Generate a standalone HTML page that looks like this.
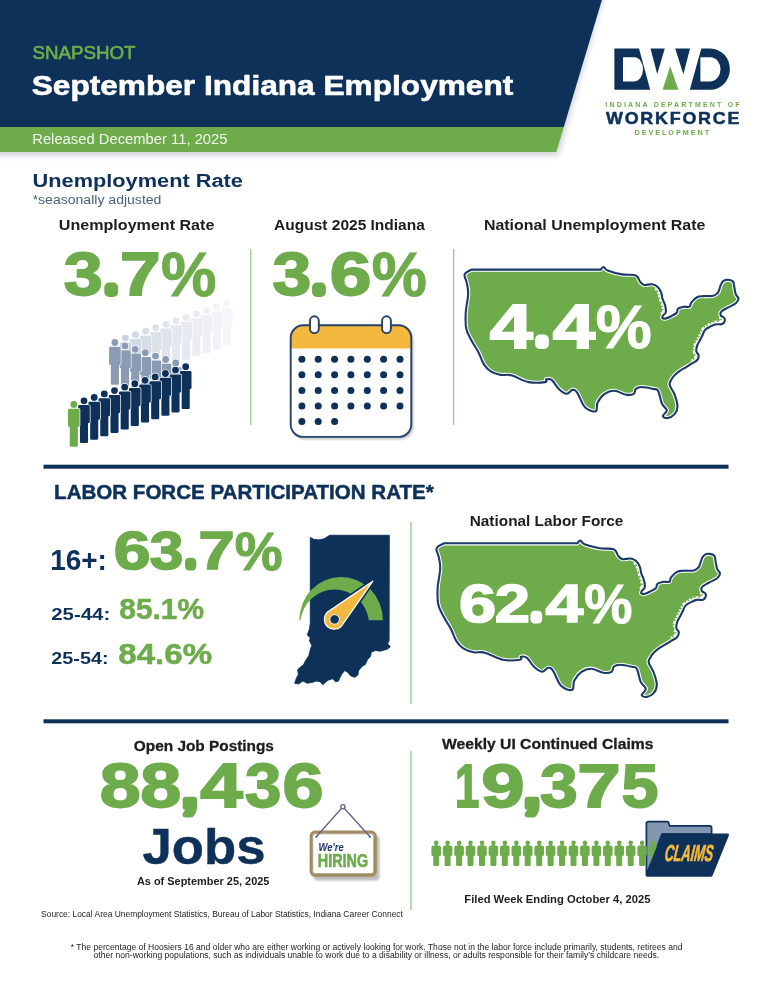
<!DOCTYPE html>
<html lang="en"><head><meta charset="utf-8"><title>September Indiana Employment Snapshot</title>
<style>
html,body{margin:0;padding:0;background:#fff;}
body{width:773px;height:1000px;overflow:hidden;font-family:"Liberation Sans", sans-serif;}
svg{display:block;}
text{font-family:"Liberation Sans", sans-serif;white-space:pre;}
</style></head><body>
<svg width="773" height="1000" viewBox="0 0 773 1000">
<defs>
<filter id="sh" x="-5%" y="-20%" width="110%" height="150%"><feGaussianBlur stdDeviation="3"/></filter>
<filter id="sh2" x="-20%" y="-20%" width="140%" height="140%"><feGaussianBlur stdDeviation="1.2"/></filter>
<symbol id="p" overflow="visible"><circle cx="0" cy="3.4" r="3.4"/><path d="M-4.6,7.7 h9.2 a1.2,1.2 0 0 1 1.2,1.2 v15.6 a1.2,1.2 0 0 1 -1.2,1.2 h-0.55 v18.9 a1.1,1.1 0 0 1 -1.1,1.1 h-5.9 a1.1,1.1 0 0 1 -1.1,-1.1 v-18.9 h-0.55 a1.2,1.2 0 0 1 -1.2,-1.2 v-15.6 a1.2,1.2 0 0 1 1.2,-1.2 z"/></symbol><symbol id="s" overflow="visible"><circle cx="0" cy="2.3" r="2.3"/><rect x="-1.3" y="3.5" width="2.6" height="2.5"/><path d="M-2.6,4.9 h5.2 a2.2,2.2 0 0 1 2.2,2.2 v7 a1.4,1.4 0 0 1 -1.4,1.4 h-0.4 v8.8 a1.3,1.3 0 0 1 -1.3,1.3 h-3.4 a1.3,1.3 0 0 1 -1.3,-1.3 v-8.8 h-0.4 a1.4,1.4 0 0 1 -1.4,-1.4 v-7 a2.2,2.2 0 0 1 2.2,-2.2 z"/></symbol>
</defs>
<rect width="773" height="1000" fill="#fff"/>

<g id="header">
<path d="M-10,-10 H602.6 L556.6,152.4 H-10 Z" fill="#1a1a3a" opacity="0.22" filter="url(#sh)" transform="translate(1.5,2.5)"/>
<path d="M0,0 H601.9 L563.8,126.9 H0 Z" fill="#0e3159"/>
<path d="M0,126.9 H563.8 L556.3,152.1 H0 Z" fill="#6dab4b"/>
<text x="32.41" y="58.76" font-size="18.73" fill="#6dab4b" font-weight="normal" textLength="103.14" lengthAdjust="spacingAndGlyphs" stroke="#6dab4b" stroke-width="0.7" stroke-linejoin="round">SNAPSHOT</text>
<text x="31.71" y="94.93" font-size="27.46" fill="#fff" font-weight="bold" textLength="481.6" lengthAdjust="spacingAndGlyphs" stroke="#fff" stroke-width="0.6" stroke-linejoin="round">September Indiana Employment</text>
<text x="32.21" y="144.2" font-size="15.22" fill="#fff" font-weight="normal" textLength="195.34" lengthAdjust="spacingAndGlyphs" opacity="0.9">Released December 11, 2025</text>
</g>
<g id="logo">
<path d="M614.4,48.6 H639 L650.2,89.7 H614.4 Z" fill="#0e3159"/>
<path d="M623,57.3 H634.4 a8.6,12.05 0 0 1 0,24.1 H623 Z" fill="#fff"/>
<path d="M650.5,48.6 H664.8 L657.2,73.9 Z" fill="#0e3159"/>
<path d="M675.2,48.6 H690 L683.4,74.2 Z" fill="#0e3159"/>
<path d="M670.2,66.3 L678.4,89.7 H662.6 Z" fill="#6dab4b"/>
<path d="M701.3,48.6 H710.4 a19.5,20.55 0 0 1 0,41.1 H689.8 Z" fill="#0e3159"/>
<path d="M700.4,57.3 H710.4 a10.1,12.05 0 0 1 0,24.1 H700.4 Z" fill="#fff"/>
<text x="605.37" y="107.2" font-size="6.96" fill="#6dab4b" font-weight="bold" textLength="134.15" lengthAdjust="spacing">INDIANA DEPARTMENT OF</text>
<text x="606.05" y="123.65" font-size="16.23" fill="#0e3159" font-weight="bold" textLength="135.06" lengthAdjust="spacingAndGlyphs" stroke="#0e3159" stroke-width="0.5" stroke-linejoin="round" style="letter-spacing:1.6px">WORKFORCE</text>
<text x="634.45" y="134.8" font-size="7.25" fill="#6dab4b" font-weight="bold" textLength="74.64" lengthAdjust="spacing">DEVELOPMENT</text>
</g>
<g id="unemployment">
<text x="32.54" y="187.11" font-size="19.14" fill="#0e3159" font-weight="bold" textLength="210.34" lengthAdjust="spacingAndGlyphs">Unemployment Rate</text>
<text x="32.65" y="203.7" font-size="13.52" fill="#4d5d78" font-weight="normal" textLength="128.77" lengthAdjust="spacingAndGlyphs">*seasonally adjusted</text>
<text x="58.79" y="229.85" font-size="15.0" fill="#1d1d1f" font-weight="bold" textLength="155.61" lengthAdjust="spacingAndGlyphs">Unemployment Rate</text>
<text x="274.11" y="230.0" font-size="15.22" fill="#1d1d1f" font-weight="bold" textLength="150.68" lengthAdjust="spacingAndGlyphs">August 2025 Indiana</text>
<text x="483.9" y="230.1" font-size="15.22" fill="#1d1d1f" font-weight="bold" textLength="221.45" lengthAdjust="spacingAndGlyphs">National Unemployment Rate</text>
<text y="295.29" font-size="61.41" fill="#6dab4b" font-weight="bold" stroke="#6dab4b" stroke-width="1.8" stroke-linejoin="miter"><tspan x="63.65" textLength="38.88" lengthAdjust="spacingAndGlyphs" y="295.29">3</tspan><tspan x="107.30" textLength="7.94" lengthAdjust="spacingAndGlyphs" font-size="29.33" y="291.80" stroke-width="10" stroke-linejoin="round">.</tspan><tspan x="120.02" textLength="40.55" lengthAdjust="spacingAndGlyphs" y="295.29">7</tspan><tspan x="160.94" textLength="55.47" lengthAdjust="spacingAndGlyphs" font-size="62.98" y="295.67" stroke-width="1.0" stroke-linejoin="miter">%</tspan></text>
<text y="295.29" font-size="61.41" fill="#6dab4b" font-weight="bold" stroke="#6dab4b" stroke-width="1.8" stroke-linejoin="miter"><tspan x="272.46" textLength="38.76" lengthAdjust="spacingAndGlyphs" y="295.29">3</tspan><tspan x="315.10" textLength="7.94" lengthAdjust="spacingAndGlyphs" font-size="29.33" y="291.80" stroke-width="10" stroke-linejoin="round">.</tspan><tspan x="329.78" textLength="41.63" lengthAdjust="spacingAndGlyphs" y="295.29">6</tspan><tspan x="371.65" textLength="55.05" lengthAdjust="spacingAndGlyphs" font-size="62.98" y="295.67" stroke-width="1.0" stroke-linejoin="miter">%</tspan></text>
<rect x="250.0" y="248.8" width="1.4" height="176" fill="#a6c694"/>
<rect x="452.9" y="248.8" width="1.4" height="176" fill="#a6c694"/>
<g id="people"><use href="#p" x="226.8" y="300.3" fill="#f4f6f9" stroke="#fff" stroke-width="1.3" paint-order="stroke"/><use href="#p" x="216.7" y="303.7" fill="#f1f3f7" stroke="#fff" stroke-width="1.3" paint-order="stroke"/><use href="#p" x="206.5" y="307.2" fill="#edf0f5" stroke="#fff" stroke-width="1.3" paint-order="stroke"/><use href="#p" x="196.4" y="310.6" fill="#eaedf3" stroke="#fff" stroke-width="1.3" paint-order="stroke"/><use href="#p" x="186.2" y="314.1" fill="#e6eaf0" stroke="#fff" stroke-width="1.3" paint-order="stroke"/><use href="#p" x="176.1" y="317.5" fill="#e3e7ee" stroke="#fff" stroke-width="1.3" paint-order="stroke"/><use href="#p" x="166.0" y="320.9" fill="#dfe4eb" stroke="#fff" stroke-width="1.3" paint-order="stroke"/><use href="#p" x="155.8" y="324.4" fill="#dbe0e9" stroke="#fff" stroke-width="1.3" paint-order="stroke"/><use href="#p" x="145.7" y="327.8" fill="#d6dde6" stroke="#fff" stroke-width="1.3" paint-order="stroke"/><use href="#p" x="135.5" y="331.3" fill="#d1d9e3" stroke="#fff" stroke-width="1.3" paint-order="stroke"/><use href="#p" x="125.4" y="334.7" fill="#cbd3df" stroke="#fff" stroke-width="1.3" paint-order="stroke"/><use href="#p" x="175.7" y="359.5" fill="#8a9bb3" stroke="#fff" stroke-width="1.3" paint-order="stroke"/><use href="#p" x="165.6" y="356.1" fill="#8a9bb3" stroke="#fff" stroke-width="1.3" paint-order="stroke"/><use href="#p" x="155.5" y="352.7" fill="#8a9bb3" stroke="#fff" stroke-width="1.3" paint-order="stroke"/><use href="#p" x="145.3" y="349.3" fill="#8a9bb3" stroke="#fff" stroke-width="1.3" paint-order="stroke"/><use href="#p" x="135.2" y="345.9" fill="#8a9bb3" stroke="#fff" stroke-width="1.3" paint-order="stroke"/><use href="#p" x="125.0" y="342.5" fill="#8a9bb3" stroke="#fff" stroke-width="1.3" paint-order="stroke"/><use href="#p" x="114.9" y="339.1" fill="#8a9bb3" stroke="#fff" stroke-width="1.3" paint-order="stroke"/><use href="#p" x="185.7" y="363.3" fill="#0e3159" stroke="#fff" stroke-width="1.4" paint-order="stroke"/><use href="#p" x="175.5" y="366.7" fill="#0e3159" stroke="#fff" stroke-width="1.4" paint-order="stroke"/><use href="#p" x="165.4" y="370.1" fill="#0e3159" stroke="#fff" stroke-width="1.4" paint-order="stroke"/><use href="#p" x="155.2" y="373.5" fill="#0e3159" stroke="#fff" stroke-width="1.4" paint-order="stroke"/><use href="#p" x="145.0" y="376.9" fill="#0e3159" stroke="#fff" stroke-width="1.4" paint-order="stroke"/><use href="#p" x="134.8" y="380.3" fill="#0e3159" stroke="#fff" stroke-width="1.4" paint-order="stroke"/><use href="#p" x="124.7" y="383.8" fill="#0e3159" stroke="#fff" stroke-width="1.4" paint-order="stroke"/><use href="#p" x="114.5" y="387.2" fill="#0e3159" stroke="#fff" stroke-width="1.4" paint-order="stroke"/><use href="#p" x="104.3" y="390.6" fill="#0e3159" stroke="#fff" stroke-width="1.4" paint-order="stroke"/><use href="#p" x="94.2" y="394.0" fill="#0e3159" stroke="#fff" stroke-width="1.4" paint-order="stroke"/><use href="#p" x="84.0" y="397.4" fill="#0e3159" stroke="#fff" stroke-width="1.4" paint-order="stroke"/><use href="#p" x="73.8" y="401.0" fill="#6dab4b" stroke="#fff" stroke-width="1.4" paint-order="stroke"/></g>
<g id="calendar">
<rect x="291.5" y="326.5" width="122" height="113" rx="13" fill="#000" opacity="0.22" filter="url(#sh2)"/>
<rect x="290.4" y="325" width="121.2" height="112.2" rx="13" fill="#fff"/>
<path d="M290.4,348.6 V338 a13,13 0 0 1 13,-13 H398.6 a13,13 0 0 1 13,13 V348.6 Z" fill="#f3b93e"/>
<rect x="290.7" y="325.3" width="120.6" height="111.6" rx="12.6" fill="none" stroke="#27426a" stroke-width="1.9"/>
<rect x="310.0" y="316.3" width="8.8" height="16.8" rx="4.4" fill="#fff" stroke="#27426a" stroke-width="1.9"/>
<rect x="382.1" y="316.3" width="8.8" height="16.8" rx="4.4" fill="#fff" stroke="#27426a" stroke-width="1.9"/>
<g fill="#0e3159"><circle cx="301.9" cy="359.2" r="3.5"/><circle cx="318.2" cy="359.2" r="3.5"/><circle cx="334.6" cy="359.2" r="3.5"/><circle cx="350.9" cy="359.2" r="3.5"/><circle cx="367.3" cy="359.2" r="3.5"/><circle cx="383.6" cy="359.2" r="3.5"/><circle cx="400.0" cy="359.2" r="3.5"/><circle cx="301.9" cy="374.8" r="3.5"/><circle cx="318.2" cy="374.8" r="3.5"/><circle cx="334.6" cy="374.8" r="3.5"/><circle cx="350.9" cy="374.8" r="3.5"/><circle cx="367.3" cy="374.8" r="3.5"/><circle cx="383.6" cy="374.8" r="3.5"/><circle cx="400.0" cy="374.8" r="3.5"/><circle cx="301.9" cy="390.4" r="3.5"/><circle cx="318.2" cy="390.4" r="3.5"/><circle cx="334.6" cy="390.4" r="3.5"/><circle cx="350.9" cy="390.4" r="3.5"/><circle cx="367.3" cy="390.4" r="3.5"/><circle cx="383.6" cy="390.4" r="3.5"/><circle cx="400.0" cy="390.4" r="3.5"/><circle cx="301.9" cy="406.0" r="3.5"/><circle cx="318.2" cy="406.0" r="3.5"/><circle cx="334.6" cy="406.0" r="3.5"/><circle cx="350.9" cy="406.0" r="3.5"/><circle cx="367.3" cy="406.0" r="3.5"/><circle cx="383.6" cy="406.0" r="3.5"/><circle cx="400.0" cy="406.0" r="3.5"/><circle cx="301.9" cy="421.6" r="3.5"/><circle cx="318.2" cy="421.6" r="3.5"/><circle cx="334.6" cy="421.6" r="3.5"/></g>
</g>
<g id="usmap1"><path d="M472.1,269.6 C472.1,269.6 600.8,269.6 600.8,269.6 C600.8,269.6 602.5,266.8 603.7,267.0 C604.9,267.2 604.2,269.1 607.6,270.5 C611.0,271.9 617.0,273.5 622.2,274.4 C627.4,275.3 632.5,274.1 635.8,275.4 C639.1,276.7 638.5,279.8 640.0,281.5 C641.5,283.2 641.9,284.4 644.1,284.9 C646.3,285.4 649.7,283.9 652.2,284.3 C654.7,284.7 656.1,285.5 657.7,287.0 C659.3,288.5 660.2,290.3 661.1,292.4 C662.0,294.5 661.7,296.1 662.4,298.5 C663.1,300.9 664.5,302.8 665.1,305.3 C665.7,307.8 666.2,310.2 665.8,312.1 C665.4,314.0 663.7,314.5 663.1,315.5 C662.5,316.5 662.0,317.2 662.4,317.8 C662.8,318.4 663.5,318.9 665.1,318.6 C666.7,318.3 669.1,317.3 671.2,316.2 C673.3,315.1 675.5,314.2 676.7,312.8 C677.9,311.4 676.8,309.8 678.0,308.7 C679.2,307.6 681.4,307.3 683.5,306.9 C685.6,306.5 688.2,307.5 689.6,306.7 C691.0,305.9 689.9,304.3 691.3,302.6 C692.7,300.9 694.7,298.4 697.0,297.2 C699.3,296.0 700.8,296.4 703.8,296.1 C706.8,295.8 710.7,296.5 713.3,295.8 C715.9,295.1 716.7,294.4 718.1,292.4 C719.5,290.4 719.8,287.0 720.8,284.9 C721.8,282.8 722.1,281.8 723.5,280.9 C724.9,280.0 726.6,279.7 728.3,279.8 C730.0,279.9 731.9,280.1 733.0,281.5 C734.1,282.9 733.9,285.3 734.4,287.7 C734.9,290.1 735.0,292.4 735.8,294.4 C736.6,296.4 738.5,297.2 738.5,298.8 C738.5,300.4 737.7,301.7 735.8,303.3 C733.9,304.9 730.9,305.9 728.3,307.4 C725.7,308.9 722.9,309.9 721.5,311.4 C720.1,312.9 720.2,314.3 720.8,315.5 C721.3,316.7 723.9,317.0 724.5,318.2 C725.1,319.4 724.8,321.2 724.2,322.3 C723.7,323.4 723.0,323.9 721.5,324.3 C720.0,324.7 718.1,323.9 716.1,324.3 C714.1,324.7 712.6,325.4 710.6,326.4 C708.6,327.4 706.7,328.2 705.2,329.8 C703.7,331.4 703.5,333.2 702.5,335.2 C701.5,337.2 700.8,338.6 699.8,340.6 C698.8,342.6 697.6,344.1 697.0,346.1 C696.4,348.1 696.1,349.8 696.4,351.5 C696.7,353.2 698.6,354.0 698.7,355.6 C698.8,357.2 698.3,358.8 697.0,360.3 C695.7,361.8 693.6,362.5 691.6,363.7 C689.6,364.9 688.4,365.7 686.2,367.1 C684.0,368.5 681.6,369.6 679.4,371.2 C677.2,372.8 675.5,374.3 674.0,375.9 C672.5,377.5 672.0,378.3 671.2,380.0 C670.4,381.7 669.1,382.3 669.7,385.0 C670.3,387.7 673.2,390.8 674.6,394.7 C676.0,398.6 677.5,402.8 677.5,406.4 C677.5,410.0 676.4,412.0 674.6,414.1 C672.8,416.2 669.9,417.6 667.8,418.0 C665.7,418.4 663.1,417.5 662.9,416.1 C662.7,414.7 667.0,412.6 666.8,410.3 C666.6,408.0 663.5,407.1 661.9,403.5 C660.3,399.9 659.7,393.5 658.1,390.8 C656.5,388.1 656.2,389.6 653.2,388.9 C650.2,388.2 644.8,387.0 641.6,387.0 C638.4,387.0 637.2,387.7 635.8,388.9 C634.4,390.1 635.6,392.7 633.8,393.8 C632.0,394.9 629.6,395.2 626.0,394.7 C622.4,394.1 618.3,391.0 614.4,390.8 C610.5,390.6 607.8,391.7 604.7,393.8 C601.6,395.9 599.2,399.3 597.6,402.5 C596.0,405.7 598.0,410.3 595.7,411.2 C593.4,412.1 588.4,410.7 585.0,407.3 C581.6,403.9 579.6,396.0 577.3,392.8 C575.0,389.6 574.4,389.7 572.4,389.9 C570.4,390.1 569.1,394.0 566.6,393.8 C564.1,393.6 561.5,391.4 558.8,388.9 C556.1,386.4 554.3,382.0 552.0,380.2 C549.7,378.4 547.4,378.9 546.2,379.2 C545.0,379.5 548.4,381.6 545.2,382.1 C542.0,382.6 534.9,383.3 528.7,382.1 C522.5,380.9 516.5,376.6 511.3,375.3 C506.1,374.0 504.3,375.6 500.6,374.9 C496.9,374.2 493.9,373.3 490.9,371.4 C487.9,369.5 486.4,368.2 484.1,364.6 C481.8,361.0 480.6,356.4 478.3,352.0 C476.0,347.6 473.7,344.7 471.5,340.4 C469.3,336.1 467.4,333.7 466.3,328.7 C465.2,323.7 465.4,319.6 465.7,313.2 C466.0,306.8 468.0,299.5 468.2,293.8 C468.4,288.1 467.2,285.8 466.6,282.2 C466.0,278.6 463.7,276.7 464.7,274.4 C465.7,272.1 472.1,269.6 472.1,269.6 Z" fill="#6dab4b" stroke="#fff" stroke-width="4.2" stroke-linejoin="round"/><path d="M720.8,315.5 L724.5,318.2 L724.2,322.3 L721.5,324.3 L716.1,324.3 L710.6,326.4 L705.2,329.8 L702.5,335.2 L699.8,340.6 L697.0,346.1 L696.4,351.5 L698.7,355.6 L697.0,360.3 L691.6,363.7" fill="none" stroke="#fff" stroke-width="7.5" stroke-dasharray="1.8 1.5" stroke-linejoin="round"/><path d="M657.7,287.0 L661.1,292.4 L662.4,298.5 L665.1,305.3 L665.8,312.1 L663.1,315.5" fill="none" stroke="#fff" stroke-width="7.5" stroke-dasharray="2.4 1.8" stroke-linejoin="round"/><path d="M472.1,269.6 C472.1,269.6 600.8,269.6 600.8,269.6 C600.8,269.6 602.5,266.8 603.7,267.0 C604.9,267.2 604.2,269.1 607.6,270.5 C611.0,271.9 617.0,273.5 622.2,274.4 C627.4,275.3 632.5,274.1 635.8,275.4 C639.1,276.7 638.5,279.8 640.0,281.5 C641.5,283.2 641.9,284.4 644.1,284.9 C646.3,285.4 649.7,283.9 652.2,284.3 C654.7,284.7 656.1,285.5 657.7,287.0 C659.3,288.5 660.2,290.3 661.1,292.4 C662.0,294.5 661.7,296.1 662.4,298.5 C663.1,300.9 664.5,302.8 665.1,305.3 C665.7,307.8 666.2,310.2 665.8,312.1 C665.4,314.0 663.7,314.5 663.1,315.5 C662.5,316.5 662.0,317.2 662.4,317.8 C662.8,318.4 663.5,318.9 665.1,318.6 C666.7,318.3 669.1,317.3 671.2,316.2 C673.3,315.1 675.5,314.2 676.7,312.8 C677.9,311.4 676.8,309.8 678.0,308.7 C679.2,307.6 681.4,307.3 683.5,306.9 C685.6,306.5 688.2,307.5 689.6,306.7 C691.0,305.9 689.9,304.3 691.3,302.6 C692.7,300.9 694.7,298.4 697.0,297.2 C699.3,296.0 700.8,296.4 703.8,296.1 C706.8,295.8 710.7,296.5 713.3,295.8 C715.9,295.1 716.7,294.4 718.1,292.4 C719.5,290.4 719.8,287.0 720.8,284.9 C721.8,282.8 722.1,281.8 723.5,280.9 C724.9,280.0 726.6,279.7 728.3,279.8 C730.0,279.9 731.9,280.1 733.0,281.5 C734.1,282.9 733.9,285.3 734.4,287.7 C734.9,290.1 735.0,292.4 735.8,294.4 C736.6,296.4 738.5,297.2 738.5,298.8 C738.5,300.4 737.7,301.7 735.8,303.3 C733.9,304.9 730.9,305.9 728.3,307.4 C725.7,308.9 722.9,309.9 721.5,311.4 C720.1,312.9 720.2,314.3 720.8,315.5 C721.3,316.7 723.9,317.0 724.5,318.2 C725.1,319.4 724.8,321.2 724.2,322.3 C723.7,323.4 723.0,323.9 721.5,324.3 C720.0,324.7 718.1,323.9 716.1,324.3 C714.1,324.7 712.6,325.4 710.6,326.4 C708.6,327.4 706.7,328.2 705.2,329.8 C703.7,331.4 703.5,333.2 702.5,335.2 C701.5,337.2 700.8,338.6 699.8,340.6 C698.8,342.6 697.6,344.1 697.0,346.1 C696.4,348.1 696.1,349.8 696.4,351.5 C696.7,353.2 698.6,354.0 698.7,355.6 C698.8,357.2 698.3,358.8 697.0,360.3 C695.7,361.8 693.6,362.5 691.6,363.7 C689.6,364.9 688.4,365.7 686.2,367.1 C684.0,368.5 681.6,369.6 679.4,371.2 C677.2,372.8 675.5,374.3 674.0,375.9 C672.5,377.5 672.0,378.3 671.2,380.0 C670.4,381.7 669.1,382.3 669.7,385.0 C670.3,387.7 673.2,390.8 674.6,394.7 C676.0,398.6 677.5,402.8 677.5,406.4 C677.5,410.0 676.4,412.0 674.6,414.1 C672.8,416.2 669.9,417.6 667.8,418.0 C665.7,418.4 663.1,417.5 662.9,416.1 C662.7,414.7 667.0,412.6 666.8,410.3 C666.6,408.0 663.5,407.1 661.9,403.5 C660.3,399.9 659.7,393.5 658.1,390.8 C656.5,388.1 656.2,389.6 653.2,388.9 C650.2,388.2 644.8,387.0 641.6,387.0 C638.4,387.0 637.2,387.7 635.8,388.9 C634.4,390.1 635.6,392.7 633.8,393.8 C632.0,394.9 629.6,395.2 626.0,394.7 C622.4,394.1 618.3,391.0 614.4,390.8 C610.5,390.6 607.8,391.7 604.7,393.8 C601.6,395.9 599.2,399.3 597.6,402.5 C596.0,405.7 598.0,410.3 595.7,411.2 C593.4,412.1 588.4,410.7 585.0,407.3 C581.6,403.9 579.6,396.0 577.3,392.8 C575.0,389.6 574.4,389.7 572.4,389.9 C570.4,390.1 569.1,394.0 566.6,393.8 C564.1,393.6 561.5,391.4 558.8,388.9 C556.1,386.4 554.3,382.0 552.0,380.2 C549.7,378.4 547.4,378.9 546.2,379.2 C545.0,379.5 548.4,381.6 545.2,382.1 C542.0,382.6 534.9,383.3 528.7,382.1 C522.5,380.9 516.5,376.6 511.3,375.3 C506.1,374.0 504.3,375.6 500.6,374.9 C496.9,374.2 493.9,373.3 490.9,371.4 C487.9,369.5 486.4,368.2 484.1,364.6 C481.8,361.0 480.6,356.4 478.3,352.0 C476.0,347.6 473.7,344.7 471.5,340.4 C469.3,336.1 467.4,333.7 466.3,328.7 C465.2,323.7 465.4,319.6 465.7,313.2 C466.0,306.8 468.0,299.5 468.2,293.8 C468.4,288.1 467.2,285.8 466.6,282.2 C466.0,278.6 463.7,276.7 464.7,274.4 C465.7,272.1 472.1,269.6 472.1,269.6 Z" fill="none" stroke="#1c3a66" stroke-width="2.1" stroke-linejoin="round"/>
<text y="348.20" font-size="62.17" fill="#fff" font-weight="bold" stroke="#fff" stroke-width="1.8" stroke-linejoin="miter"><tspan x="489.84" textLength="43.04" lengthAdjust="spacingAndGlyphs" y="348.20">4</tspan><tspan x="538.10" textLength="7.94" lengthAdjust="spacingAndGlyphs" font-size="29.33" y="344.10" stroke-width="10" stroke-linejoin="round">.</tspan><tspan x="552.75" textLength="42.52" lengthAdjust="spacingAndGlyphs" y="348.20">4</tspan><tspan x="595.83" textLength="56.00" lengthAdjust="spacingAndGlyphs" font-size="61.99" y="347.98" stroke-width="1.0" stroke-linejoin="miter">%</tspan></text>
</g>
</g>
<rect x="43.5" y="464.7" width="685" height="4" fill="#0e3159"/>
<g id="laborforce">
<text x="54.12" y="498.95" font-size="20.0" fill="#0e3159" font-weight="bold" textLength="379.57" lengthAdjust="spacingAndGlyphs" stroke="#0e3159" stroke-width="0.5" stroke-linejoin="round">LABOR FORCE PARTICIPATION RATE*</text>
<text x="50.18" y="570.1" font-size="28.99" fill="#0e3159" font-weight="bold" textLength="56.76" lengthAdjust="spacingAndGlyphs">16+:</text>
<text y="569.27" font-size="53.24" fill="#6dab4b" font-weight="bold" stroke="#6dab4b" stroke-width="1.6" stroke-linejoin="miter"><tspan x="113.68" textLength="36.81" lengthAdjust="spacingAndGlyphs" y="569.27">6</tspan><tspan x="149.78" textLength="33.71" lengthAdjust="spacingAndGlyphs" y="569.27">3</tspan><tspan x="187.50" textLength="6.35" lengthAdjust="spacingAndGlyphs" font-size="25.33" y="566.10" stroke-width="9" stroke-linejoin="round">.</tspan><tspan x="198.58" textLength="36.12" lengthAdjust="spacingAndGlyphs" y="569.27">7</tspan><tspan x="234.75" textLength="47.85" lengthAdjust="spacingAndGlyphs" font-size="54.47" y="569.56" stroke-width="1.0" stroke-linejoin="miter">%</tspan></text>
<text x="51.29" y="619.6" font-size="17.29" fill="#0e3159" font-weight="bold" textLength="58.96" lengthAdjust="spacingAndGlyphs">25-44:</text>
<text x="119.36" y="619.15" font-size="29.58" fill="#6dab4b" font-weight="bold" textLength="84.55" lengthAdjust="spacingAndGlyphs" stroke="#6dab4b" stroke-width="0.5" stroke-linejoin="round">85.1%</text>
<text x="51.31" y="664.0" font-size="17.29" fill="#0e3159" font-weight="bold" textLength="57.29" lengthAdjust="spacingAndGlyphs">25-54:</text>
<text x="118.36" y="663.55" font-size="29.72" fill="#6dab4b" font-weight="bold" textLength="93.73" lengthAdjust="spacingAndGlyphs" stroke="#6dab4b" stroke-width="0.5" stroke-linejoin="round">84.6%</text>
<path d="M310.3,537.4 L313.5,539.2 L318.5,539.9 L323.5,539.0 L327.0,537.0 L329.8,535.3 L389.3,535.3 L389.1,640.8 L387.6,643.8 L390.3,646.8 L387.6,649.0 L380.2,651.2 L375.7,650.5 L371.3,652.0 L370.5,656.4 L367.6,659.4 L365.3,664.6 L362.4,666.1 L358.6,670.6 L357.9,675.0 L354.9,677.3 L350.5,675.8 L347.5,672.1 L344.5,670.6 L342.3,673.6 L340.0,677.3 L338.6,681.0 L335.6,681.7 L332.6,678.8 L328.1,680.2 L325.2,682.5 L322.9,684.7 L320.0,681.7 L316.2,681.0 L311.8,682.5 L307.3,683.2 L302.9,681.0 L298.4,684.0 L294.7,683.2 L296.2,678.8 L298.4,674.3 L297.6,669.8 L299.9,667.6 L303.6,664.6 L305.8,660.2 L308.8,655.7 L310.3,649.8 L311.8,645.3 L309.5,640.8 L310.3,637.9 L307.3,634.9 L309.5,628.9 L310.3,623.0 Z" fill="#0e3159" stroke="#0e3159" stroke-width="0.9" stroke-linejoin="round"/>
<g id="gauge">
<path d="M299.3,620.2 A41.8,43.3 0 0 1 382.9,620.2 L368.9,620.2 A34.6,35.66 0 0 0 300.4,620.2 Z" fill="#6dab4b"/>
<path d="M372.8,581.2 L327.2,612.4 A9.6,9.6 0 1 0 341.4,626.2 Z" fill="#0e3159" stroke="#0e3159" stroke-width="4.6" stroke-linejoin="round"/>
<path d="M372.8,581.2 L327.2,612.4 A9.6,9.6 0 1 0 341.4,626.2 Z" fill="#f3b93e" stroke="#fff" stroke-width="1.3" stroke-linejoin="round"/>
<circle cx="334.6" cy="619.4" r="4.8" fill="#0e3159" stroke="#fff" stroke-width="1"/>
</g>
<rect x="410.3" y="522" width="1.4" height="182" fill="#a6c694"/>
<text x="469.74" y="525.7" font-size="15.07" fill="#1d1d1f" font-weight="bold" textLength="153.66" lengthAdjust="spacingAndGlyphs">National Labor Force</text>
<g id="usmap2"><path d="M444.3,543.3 C444.3,543.3 577.5,543.3 577.5,543.3 C577.5,543.3 579.2,540.4 580.5,540.6 C581.8,540.8 581.0,542.8 584.5,544.2 C588.0,545.6 594.3,547.3 599.6,548.3 C605.0,549.2 610.3,547.9 613.7,549.3 C617.1,550.6 616.5,553.8 618.0,555.6 C619.6,557.4 620.0,558.6 622.3,559.1 C624.6,559.7 628.1,558.1 630.7,558.5 C633.2,558.9 634.7,559.8 636.4,561.3 C638.0,562.8 639.0,564.7 639.9,566.9 C640.8,569.1 640.5,570.8 641.2,573.2 C642.0,575.7 643.4,577.7 644.0,580.2 C644.7,582.8 645.1,585.3 644.7,587.3 C644.4,589.2 642.6,589.7 641.9,590.8 C641.3,591.9 640.8,592.6 641.2,593.2 C641.6,593.8 642.3,594.3 644.0,594.0 C645.7,593.7 648.1,592.6 650.3,591.5 C652.5,590.4 654.7,589.4 656.0,588.0 C657.3,586.6 656.1,584.9 657.4,583.8 C658.7,582.6 660.9,582.3 663.1,581.9 C665.3,581.5 667.9,582.5 669.4,581.7 C670.9,580.9 669.7,579.2 671.1,577.4 C672.5,575.6 674.7,573.1 677.0,571.9 C679.4,570.6 681.0,571.0 684.1,570.7 C687.2,570.5 691.2,571.1 693.9,570.4 C696.6,569.7 697.4,569.0 698.9,566.9 C700.3,564.8 700.6,561.3 701.7,559.1 C702.7,556.9 703.0,556.0 704.5,555.0 C705.9,554.0 707.6,553.7 709.4,553.8 C711.2,554.0 713.1,554.1 714.3,555.6 C715.4,557.1 715.2,559.6 715.7,562.0 C716.3,564.5 716.4,566.9 717.2,569.0 C718.0,571.1 720.0,571.8 720.0,573.5 C720.0,575.2 719.1,576.5 717.2,578.2 C715.3,579.8 712.1,580.9 709.4,582.4 C706.7,584.0 703.8,585.0 702.4,586.6 C701.0,588.1 701.1,589.5 701.7,590.8 C702.2,592.1 704.8,592.3 705.5,593.6 C706.1,594.9 705.8,596.7 705.2,597.8 C704.6,599.0 703.9,599.5 702.4,599.9 C700.9,600.3 698.9,599.5 696.8,599.9 C694.7,600.3 693.2,601.0 691.1,602.1 C689.0,603.1 687.1,603.9 685.5,605.6 C684.0,607.3 683.7,609.1 682.7,611.2 C681.7,613.2 681.0,614.7 679.9,616.8 C678.9,618.8 677.7,620.4 677.0,622.5 C676.4,624.5 676.1,626.3 676.4,628.1 C676.7,629.9 678.7,630.6 678.8,632.3 C678.9,634.0 678.4,635.6 677.0,637.2 C675.7,638.7 673.5,639.4 671.4,640.7 C669.4,642.0 668.2,642.8 665.9,644.2 C663.5,645.6 661.1,646.8 658.8,648.4 C656.5,650.1 654.8,651.6 653.2,653.3 C651.7,655.0 651.1,655.8 650.3,657.6 C649.5,659.3 648.1,659.9 648.8,662.7 C649.4,665.5 652.4,668.7 653.8,672.8 C655.3,676.8 656.8,681.2 656.8,684.9 C656.8,688.6 655.7,690.6 653.8,692.8 C652.0,695.0 649.0,696.5 646.8,696.9 C644.6,697.3 641.9,696.4 641.7,694.9 C641.5,693.5 646.0,691.3 645.8,688.9 C645.6,686.5 642.4,685.6 640.7,681.9 C639.1,678.2 638.4,671.5 636.8,668.7 C635.1,666.0 634.8,667.5 631.7,666.8 C628.6,666.0 623.0,664.8 619.7,664.8 C616.4,664.8 615.2,665.5 613.7,666.8 C612.2,668.1 613.5,670.7 611.6,671.8 C609.8,672.9 607.2,673.3 603.5,672.8 C599.9,672.2 595.6,668.9 591.5,668.7 C587.5,668.6 584.7,669.6 581.5,671.8 C578.3,674.1 575.9,677.5 574.2,680.8 C572.4,684.1 574.6,688.9 572.2,689.8 C569.8,690.8 564.6,689.3 561.1,685.8 C557.6,682.3 555.5,674.1 553.1,670.8 C550.8,667.5 550.1,667.6 548.1,667.8 C546.0,668.0 544.6,672.0 542.1,671.8 C539.5,671.6 536.8,669.3 534.0,666.8 C531.2,664.2 529.3,659.6 527.0,657.8 C524.6,655.9 522.2,656.4 521.0,656.7 C519.7,657.1 523.2,659.2 519.9,659.7 C516.6,660.3 509.3,661.0 502.8,659.7 C496.4,658.4 490.2,654.1 484.8,652.7 C479.5,651.3 477.6,653.0 473.8,652.3 C469.9,651.5 466.8,650.6 463.7,648.7 C460.6,646.7 459.1,645.3 456.7,641.6 C454.3,637.9 453.1,633.2 450.7,628.6 C448.3,624.0 445.9,621.0 443.6,616.6 C441.4,612.1 439.4,609.6 438.3,604.5 C437.2,599.3 437.3,595.0 437.6,588.4 C438.0,581.8 440.1,574.2 440.2,568.3 C440.4,562.5 439.2,560.0 438.6,556.3 C437.9,552.7 435.6,550.6 436.6,548.3 C437.6,545.9 444.3,543.3 444.3,543.3 Z" fill="#6dab4b" stroke="#fff" stroke-width="4.2" stroke-linejoin="round"/><path d="M701.7,590.8 L705.5,593.6 L705.2,597.8 L702.4,599.9 L696.8,599.9 L691.1,602.1 L685.5,605.6 L682.7,611.2 L679.9,616.8 L677.0,622.5 L676.4,628.1 L678.8,632.3 L677.0,637.2 L671.4,640.7" fill="none" stroke="#fff" stroke-width="7.5" stroke-dasharray="1.8 1.5" stroke-linejoin="round"/><path d="M636.4,561.3 L639.9,566.9 L641.2,573.2 L644.0,580.2 L644.7,587.3 L641.9,590.8" fill="none" stroke="#fff" stroke-width="7.5" stroke-dasharray="2.4 1.8" stroke-linejoin="round"/><path d="M444.3,543.3 C444.3,543.3 577.5,543.3 577.5,543.3 C577.5,543.3 579.2,540.4 580.5,540.6 C581.8,540.8 581.0,542.8 584.5,544.2 C588.0,545.6 594.3,547.3 599.6,548.3 C605.0,549.2 610.3,547.9 613.7,549.3 C617.1,550.6 616.5,553.8 618.0,555.6 C619.6,557.4 620.0,558.6 622.3,559.1 C624.6,559.7 628.1,558.1 630.7,558.5 C633.2,558.9 634.7,559.8 636.4,561.3 C638.0,562.8 639.0,564.7 639.9,566.9 C640.8,569.1 640.5,570.8 641.2,573.2 C642.0,575.7 643.4,577.7 644.0,580.2 C644.7,582.8 645.1,585.3 644.7,587.3 C644.4,589.2 642.6,589.7 641.9,590.8 C641.3,591.9 640.8,592.6 641.2,593.2 C641.6,593.8 642.3,594.3 644.0,594.0 C645.7,593.7 648.1,592.6 650.3,591.5 C652.5,590.4 654.7,589.4 656.0,588.0 C657.3,586.6 656.1,584.9 657.4,583.8 C658.7,582.6 660.9,582.3 663.1,581.9 C665.3,581.5 667.9,582.5 669.4,581.7 C670.9,580.9 669.7,579.2 671.1,577.4 C672.5,575.6 674.7,573.1 677.0,571.9 C679.4,570.6 681.0,571.0 684.1,570.7 C687.2,570.5 691.2,571.1 693.9,570.4 C696.6,569.7 697.4,569.0 698.9,566.9 C700.3,564.8 700.6,561.3 701.7,559.1 C702.7,556.9 703.0,556.0 704.5,555.0 C705.9,554.0 707.6,553.7 709.4,553.8 C711.2,554.0 713.1,554.1 714.3,555.6 C715.4,557.1 715.2,559.6 715.7,562.0 C716.3,564.5 716.4,566.9 717.2,569.0 C718.0,571.1 720.0,571.8 720.0,573.5 C720.0,575.2 719.1,576.5 717.2,578.2 C715.3,579.8 712.1,580.9 709.4,582.4 C706.7,584.0 703.8,585.0 702.4,586.6 C701.0,588.1 701.1,589.5 701.7,590.8 C702.2,592.1 704.8,592.3 705.5,593.6 C706.1,594.9 705.8,596.7 705.2,597.8 C704.6,599.0 703.9,599.5 702.4,599.9 C700.9,600.3 698.9,599.5 696.8,599.9 C694.7,600.3 693.2,601.0 691.1,602.1 C689.0,603.1 687.1,603.9 685.5,605.6 C684.0,607.3 683.7,609.1 682.7,611.2 C681.7,613.2 681.0,614.7 679.9,616.8 C678.9,618.8 677.7,620.4 677.0,622.5 C676.4,624.5 676.1,626.3 676.4,628.1 C676.7,629.9 678.7,630.6 678.8,632.3 C678.9,634.0 678.4,635.6 677.0,637.2 C675.7,638.7 673.5,639.4 671.4,640.7 C669.4,642.0 668.2,642.8 665.9,644.2 C663.5,645.6 661.1,646.8 658.8,648.4 C656.5,650.1 654.8,651.6 653.2,653.3 C651.7,655.0 651.1,655.8 650.3,657.6 C649.5,659.3 648.1,659.9 648.8,662.7 C649.4,665.5 652.4,668.7 653.8,672.8 C655.3,676.8 656.8,681.2 656.8,684.9 C656.8,688.6 655.7,690.6 653.8,692.8 C652.0,695.0 649.0,696.5 646.8,696.9 C644.6,697.3 641.9,696.4 641.7,694.9 C641.5,693.5 646.0,691.3 645.8,688.9 C645.6,686.5 642.4,685.6 640.7,681.9 C639.1,678.2 638.4,671.5 636.8,668.7 C635.1,666.0 634.8,667.5 631.7,666.8 C628.6,666.0 623.0,664.8 619.7,664.8 C616.4,664.8 615.2,665.5 613.7,666.8 C612.2,668.1 613.5,670.7 611.6,671.8 C609.8,672.9 607.2,673.3 603.5,672.8 C599.9,672.2 595.6,668.9 591.5,668.7 C587.5,668.6 584.7,669.6 581.5,671.8 C578.3,674.1 575.9,677.5 574.2,680.8 C572.4,684.1 574.6,688.9 572.2,689.8 C569.8,690.8 564.6,689.3 561.1,685.8 C557.6,682.3 555.5,674.1 553.1,670.8 C550.8,667.5 550.1,667.6 548.1,667.8 C546.0,668.0 544.6,672.0 542.1,671.8 C539.5,671.6 536.8,669.3 534.0,666.8 C531.2,664.2 529.3,659.6 527.0,657.8 C524.6,655.9 522.2,656.4 521.0,656.7 C519.7,657.1 523.2,659.2 519.9,659.7 C516.6,660.3 509.3,661.0 502.8,659.7 C496.4,658.4 490.2,654.1 484.8,652.7 C479.5,651.3 477.6,653.0 473.8,652.3 C469.9,651.5 466.8,650.6 463.7,648.7 C460.6,646.7 459.1,645.3 456.7,641.6 C454.3,637.9 453.1,633.2 450.7,628.6 C448.3,624.0 445.9,621.0 443.6,616.6 C441.4,612.1 439.4,609.6 438.3,604.5 C437.2,599.3 437.3,595.0 437.6,588.4 C438.0,581.8 440.1,574.2 440.2,568.3 C440.4,562.5 439.2,560.0 438.6,556.3 C437.9,552.7 435.6,550.6 436.6,548.3 C437.6,545.9 444.3,543.3 444.3,543.3 Z" fill="none" stroke="#1c3a66" stroke-width="2.1" stroke-linejoin="round"/>
<text y="622.26" font-size="53.80" fill="#fff" font-weight="bold" stroke="#fff" stroke-width="1.6" stroke-linejoin="miter"><tspan x="459.05" textLength="37.27" lengthAdjust="spacingAndGlyphs" y="622.26">6</tspan><tspan x="494.88" textLength="35.22" lengthAdjust="spacingAndGlyphs" y="622.26">2</tspan><tspan x="532.95" textLength="6.55" lengthAdjust="spacingAndGlyphs" font-size="25.33" y="619.10" stroke-width="9" stroke-linejoin="round">.</tspan><tspan x="545.48" textLength="37.84" lengthAdjust="spacingAndGlyphs" y="622.26">4</tspan><tspan x="584.35" textLength="48.17" lengthAdjust="spacingAndGlyphs" font-size="55.04" y="622.55" stroke-width="1.0" stroke-linejoin="miter">%</tspan></text>
</g>
</g>
<rect x="43.5" y="719.3" width="685" height="4" fill="#0e3159"/>
<g id="jobs">
<text x="133.87" y="750.8" font-size="15.35" fill="#1d1d1f" font-weight="bold" textLength="140.04" lengthAdjust="spacingAndGlyphs" stroke="#1d1d1f" stroke-width="0.3" stroke-linejoin="round">Open Job Postings</text>
<text y="806.77" font-size="62.82" fill="#6dab4b" font-weight="bold" stroke="#6dab4b" stroke-width="1.8" stroke-linejoin="miter"><tspan x="99.89" textLength="40.90" lengthAdjust="spacingAndGlyphs" y="806.77">8</tspan><tspan x="140.19" textLength="40.90" lengthAdjust="spacingAndGlyphs" y="806.77">8</tspan><tspan x="182.30" textLength="15.09" lengthAdjust="spacingAndGlyphs" font-size="47.87" y="806.88" stroke-width="6.0" stroke-linejoin="round">,</tspan><tspan x="200.25" textLength="42.52" lengthAdjust="spacingAndGlyphs" y="806.77">4</tspan><tspan x="245.07" textLength="36.29" lengthAdjust="spacingAndGlyphs" y="806.77">3</tspan><tspan x="282.62" textLength="41.05" lengthAdjust="spacingAndGlyphs" y="806.77">6</tspan></text>
<text x="142.51" y="863.8" font-size="49.71" fill="#0e3159" font-weight="bold" textLength="123.01" lengthAdjust="spacingAndGlyphs" stroke="#0e3159" stroke-width="0.4" stroke-linejoin="round">Jobs</text>
<text x="136.93" y="885.3" font-size="10.43" fill="#1d1d1f" font-weight="bold" textLength="132.49" lengthAdjust="spacingAndGlyphs">As of September 25, 2025</text>
<g id="hiring">
<rect x="313.5" y="835.5" width="66" height="45" rx="4" fill="#000" opacity="0.26" filter="url(#sh2)"/>
<rect x="311.1" y="832.1" width="64.2" height="43.2" rx="4" fill="#fff" stroke="#a38b61" stroke-width="3"/><rect x="312.8" y="833.8" width="60.8" height="39.8" rx="2.6" fill="none" stroke="#84714d" stroke-width="0.5"/>
<path d="M316.3,836.7 L342.9,806.7 L370,836.7" fill="none" stroke="#5f6589" stroke-width="1.4"/>
<circle cx="342.9" cy="806.7" r="2.1" fill="#fff" stroke="#5f6589" stroke-width="1.3"/>
<circle cx="316.4" cy="836.8" r="1" fill="#3a4a78"/><circle cx="369.9" cy="836.8" r="1" fill="#3a4a78"/>
<text x="318.49" y="850.5" font-size="11.01" fill="#1d3766" font-weight="bold" textLength="25.19" lengthAdjust="spacingAndGlyphs" style="font-style:italic">We're</text>
<text x="317.87" y="866.5" font-size="18.7" fill="#6dab4b" font-weight="bold" textLength="50.3" lengthAdjust="spacingAndGlyphs" stroke="#6dab4b" stroke-width="0.6" stroke-linejoin="round">HIRING</text>
</g>
<text x="41.08" y="916.72" font-size="8.31" fill="#222" font-weight="normal" textLength="361.82" lengthAdjust="spacingAndGlyphs">Source: Local Area Unemployment Statistics, Bureau of Labor Statistics, Indiana Career Connect</text>
</g>
<rect x="410.3" y="751" width="1.4" height="159" fill="#a6c694"/>
<g id="claims">
<text x="441.95" y="748.75" font-size="14.2" fill="#1d1d1f" font-weight="bold" textLength="211.54" lengthAdjust="spacingAndGlyphs" stroke="#1d1d1f" stroke-width="0.3" stroke-linejoin="round">Weekly UI Continued Claims</text>
<text y="807.09" font-size="60.85" fill="#6dab4b" font-weight="bold" stroke="#6dab4b" stroke-width="1.8" stroke-linejoin="miter"><tspan x="454.96" textLength="24.28" lengthAdjust="spacingAndGlyphs" y="807.09">1</tspan><tspan x="481.27" textLength="43.35" lengthAdjust="spacingAndGlyphs" y="807.09">9</tspan><tspan x="524.20" textLength="15.48" lengthAdjust="spacingAndGlyphs" font-size="47.87" y="807.18" stroke-width="6.0" stroke-linejoin="round">,</tspan><tspan x="540.10" textLength="37.75" lengthAdjust="spacingAndGlyphs" y="807.09">3</tspan><tspan x="577.19" textLength="43.42" lengthAdjust="spacingAndGlyphs" y="807.09">7</tspan><tspan x="621.41" textLength="36.93" lengthAdjust="spacingAndGlyphs" y="807.09">5</tspan></text>
<g id="folder">
<path d="M646.4,875 V823.6 a2,2 0 0 1 2,-2 H666.8 a2,2 0 0 1 2,2 L669.6,825.8 H709.6 a2,2 0 0 1 2,2 V834 L662,834 Z" fill="#8497b0" stroke="#0e3159" stroke-width="1.7" stroke-linejoin="round"/>
<g><use href="#s" x="436.2" y="840.5" fill="#6dab4b"/><use href="#s" x="447.6" y="840.5" fill="#6dab4b"/><use href="#s" x="459.1" y="840.5" fill="#6dab4b"/><use href="#s" x="470.5" y="840.5" fill="#6dab4b"/><use href="#s" x="482.0" y="840.5" fill="#6dab4b"/><use href="#s" x="493.4" y="840.5" fill="#6dab4b"/><use href="#s" x="504.8" y="840.5" fill="#6dab4b"/><use href="#s" x="516.3" y="840.5" fill="#6dab4b"/><use href="#s" x="527.7" y="840.5" fill="#6dab4b"/><use href="#s" x="539.2" y="840.5" fill="#6dab4b"/><use href="#s" x="550.6" y="840.5" fill="#6dab4b"/><use href="#s" x="562.0" y="840.5" fill="#6dab4b"/><use href="#s" x="573.5" y="840.5" fill="#6dab4b"/><use href="#s" x="584.9" y="840.5" fill="#6dab4b"/><use href="#s" x="596.4" y="840.5" fill="#6dab4b"/><use href="#s" x="607.8" y="840.5" fill="#6dab4b"/><use href="#s" x="619.2" y="840.5" fill="#6dab4b"/><use href="#s" x="630.7" y="840.5" fill="#6dab4b"/><use href="#s" x="642.1" y="840.5" fill="#6dab4b"/><use href="#s" x="653.6" y="840.5" fill="#6dab4b"/></g>
<path d="M663.2,833.4 H727.4 a1.6,1.6 0 0 1 1.5,2.2 L712.6,875.6 a2,2 0 0 1 -1.8,1.2 H647.4 a1.6,1.6 0 0 1 -1.5,-2.2 L661.4,834.6 a2,2 0 0 1 1.8,-1.2 Z" fill="#0e3159"/>
<text x="664.92" y="861.42" font-size="23.1" fill="#f3b93e" font-weight="bold" textLength="48.6" lengthAdjust="spacingAndGlyphs" stroke="#f3b93e" stroke-width="0.7" stroke-linejoin="round" style="font-style:italic" transform="translate(689.5,853.5) skewX(-7) translate(-689.5,-853.5)">CLAIMS</text>
</g>
<text x="464.34" y="902.56" font-size="11.24" fill="#1d1d1f" font-weight="bold" textLength="186.09" lengthAdjust="spacingAndGlyphs">Filed Week Ending October 4, 2025</text>
</g>
<g id="footnote">
<text x="70.77" y="949.9" font-size="8.3" fill="#222" font-weight="normal" textLength="611.75" lengthAdjust="spacingAndGlyphs">* The percentage of Hoosiers 16 and older who are either working or actively looking for work. Those not in the labor force include primarily, students, retirees and</text>
<text x="93.57" y="958.3" font-size="8.3" fill="#222" font-weight="normal" textLength="565.59" lengthAdjust="spacingAndGlyphs">other non-working populations, such as individuals unable to work due to a disability or illness, or adults responsible for their family’s childcare needs.</text>
</g>
</svg>
</body></html>
